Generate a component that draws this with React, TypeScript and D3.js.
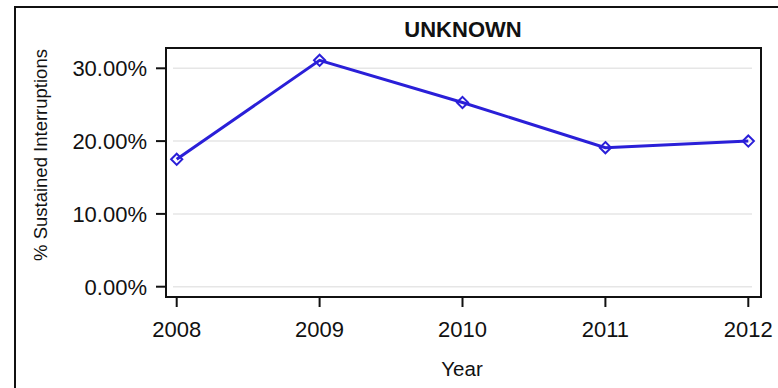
import React from "react";
import * as d3 from "d3";

const years = [2008, 2009, 2010, 2011, 2012];
const values = [17.5, 31.1, 25.3, 19.1, 20.0];
const yTicks = [0, 10, 20, 30];
const title = "UNKNOWN";
const xLabel = "Year";
const yLabel = "% Sustained Interruptions";

const W = 778;
const H = 388;
const plot = { left: 166, top: 48, right: 761, bottom: 297 };
const blue = "#2a1fd8";
const font = "'Liberation Sans', Arial, Helvetica, sans-serif";

export default function App() {
  const x = d3.scaleLinear().domain([2008, 2012]).range([176.7, 748.3]);
  const y = d3.scaleLinear().domain([0, 30]).range([286.7, 68.3]);
  const line = d3
    .line<number>()
    .x((_, i) => x(years[i]))
    .y((d) => y(d));
  const diamond = d3.symbol().type(d3.symbolDiamond2).size(80)();
  const fmt = (v: number) => v.toFixed(2) + "%";
  const tick = 10;

  return (
    <div style={{ position: "absolute", left: 0, top: 0 }}>
      <svg width={W} height={H} style={{ display: "block", background: "#fff" }}>
        <rect x={0} y={0} width={W} height={H} fill="#fff" />
        {/* outer border */}
        <rect x={15} y={7} width={W + 20} height={H + 20} fill="none" stroke="#111" strokeWidth={2} />
        {/* title */}
        <text x={463} y={37} textAnchor="middle" fontFamily={font} fontWeight="bold" fontSize={22} fill="#111">
          {title}
        </text>
        {/* gridlines */}
        {yTicks.map((t) => (
          <line key={"g" + t} x1={plot.left + 7} x2={plot.right - 9} y1={y(t)} y2={y(t)} stroke="#e6e6e6" strokeWidth={1.5} />
        ))}
        {/* plot frame */}
        <rect
          x={plot.left}
          y={plot.top}
          width={plot.right - plot.left}
          height={plot.bottom - plot.top}
          fill="none"
          stroke="#111"
          strokeWidth={2}
        />
        {/* y ticks */}
        {yTicks.map((t) => (
          <g key={"y" + t}>
            <line x1={plot.left - tick} x2={plot.left} y1={y(t)} y2={y(t)} stroke="#111" strokeWidth={2} />
            <text x={plot.left - 19} y={y(t) + 8} textAnchor="end" fontFamily={font} fontSize={22} fill="#111">
              {fmt(t)}
            </text>
          </g>
        ))}
        {/* x ticks */}
        {years.map((yr) => (
          <g key={"x" + yr}>
            <line x1={x(yr)} x2={x(yr)} y1={plot.bottom} y2={plot.bottom + tick} stroke="#111" strokeWidth={2} />
            <text x={x(yr)} y={336.5} textAnchor="middle" fontFamily={font} fontSize={22} fill="#111">
              {yr}
            </text>
          </g>
        ))}
        {/* axis labels */}
        <text x={462} y={375.5} textAnchor="middle" fontFamily={font} fontSize={20.5} fill="#111">
          {xLabel}
        </text>
        <text
          transform={`translate(46.5,155) rotate(-90)`}
          textAnchor="middle"
          fontFamily={font}
          fontSize={18.5}
          fill="#111"
        >
          {yLabel}
        </text>
        {/* series */}
        <path d={line(values) || ""} fill="none" stroke={blue} strokeWidth={3} />
        {values.map((v, i) => (
          <path
            key={"m" + i}
            d={diamond || ""}
            transform={`translate(${x(years[i])},${y(v)})`}
            fill="none"
            stroke={blue}
            strokeWidth={2}
          />
        ))}
      </svg>
    </div>
  );
}
